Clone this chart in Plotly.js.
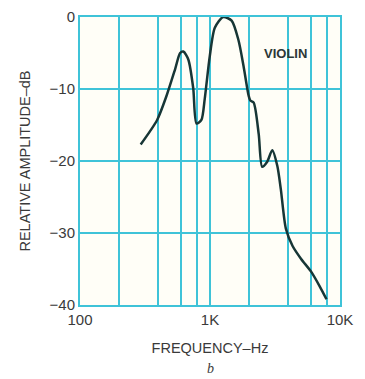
<!DOCTYPE html>
<html>
<head>
<meta charset="utf-8">
<script src="https://cdn.plot.ly/plotly-3.0.1.min.js"></script>
<style>
html,body{margin:0;padding:0;background:#ffffff;}
#chart{width:365px;height:379px;}
</style>
</head>
<body>
<div id="chart"></div>
<script>
// Frequency response of a violin (relative amplitude, dB)
const frequencyHz = [293, 392, 464, 540, 589, 624, 681, 743, 787, 859, 912, 995, 1089, 1264, 1467, 1655, 1811, 1981, 2042, 2168, 2371, 2518, 2754, 3013, 3296, 3505, 3834, 4318, 5023, 6013, 6980, 7875];
const amplitudeDb = [-17.7, -14.3, -10.9, -7.2, -5.0, -4.8, -5.9, -9.9, -14.8, -14.3, -11.3, -5.5, -1.5, 0, -0.5, -3.2, -6.8, -10.9, -11.6, -11.9, -16.3, -20.8, -20.1, -18.5, -20.7, -23.9, -29.4, -31.8, -33.6, -35.4, -37.4, -39.2];

const xTickVals = [100, 200, 400, 600, 800, 1000, 2000, 4000, 6000, 8000, 10000];
const xTickText = ['100', '', '', '', '', '1K', '', '', '', '', '10K'];
const yTickVals = [0, -10, -20, -30, -40];
const yTickText = ['0', '\u221210', '\u221220', '\u221230', '\u221240'];

const gridColor = '#3fc3d8';
const textColor = '#3a3a3a';

const trace = {
  x: frequencyHz,
  y: amplitudeDb,
  type: 'scatter',
  mode: 'lines',
  line: {color: '#173636', width: 2.5, shape: 'spline', smoothing: 0.7},
  hoverinfo: 'x+y'
};

const layout = {
  width: 365,
  height: 379,
  margin: {l: 80, r: 25, t: 17, b: 74},
  paper_bgcolor: '#ffffff',
  plot_bgcolor: '#fffef7',
  showlegend: false,
  font: {family: 'Liberation Sans, Arial, sans-serif', color: textColor, size: 15},
  xaxis: {
    type: 'log',
    range: [2, 4],
    tickvals: xTickVals,
    ticktext: xTickText,
    showgrid: true,
    gridcolor: gridColor,
    gridwidth: 2,
    showline: true,
    mirror: true,
    linecolor: gridColor,
    linewidth: 2,
    ticks: '',
    zeroline: false,
    tickfont: {size: 15, color: textColor},
    title: {text: 'FREQUENCY\u2013Hz', font: {size: 14.5, color: textColor}, standoff: 16}
  },
  yaxis: {
    range: [-40, 0],
    tickvals: yTickVals,
    ticktext: yTickText,
    showgrid: true,
    gridcolor: gridColor,
    gridwidth: 2,
    showline: true,
    mirror: true,
    linecolor: gridColor,
    linewidth: 2,
    ticks: '',
    zeroline: false,
    tickfont: {size: 15, color: textColor},
    title: {text: 'RELATIVE AMPLITUDE\u2013dB', font: {size: 14.5, color: textColor}, standoff: 15}
  },
  annotations: [
    {text: '<b>VIOLIN</b>', x: 0.88, y: 0.905, xref: 'paper', yref: 'paper', showarrow: false,
     font: {size: 13, color: '#2c3838'}},
    {text: '<i>b</i>', x: 0.5, y: -0.255, xref: 'paper', yref: 'paper', showarrow: false,
     font: {family: 'Liberation Serif, serif', size: 14, color: textColor}}
  ]
};

Plotly.newPlot('chart', [trace], layout, {displayModeBar: false, staticPlot: true});
</script>
</body>
</html>
